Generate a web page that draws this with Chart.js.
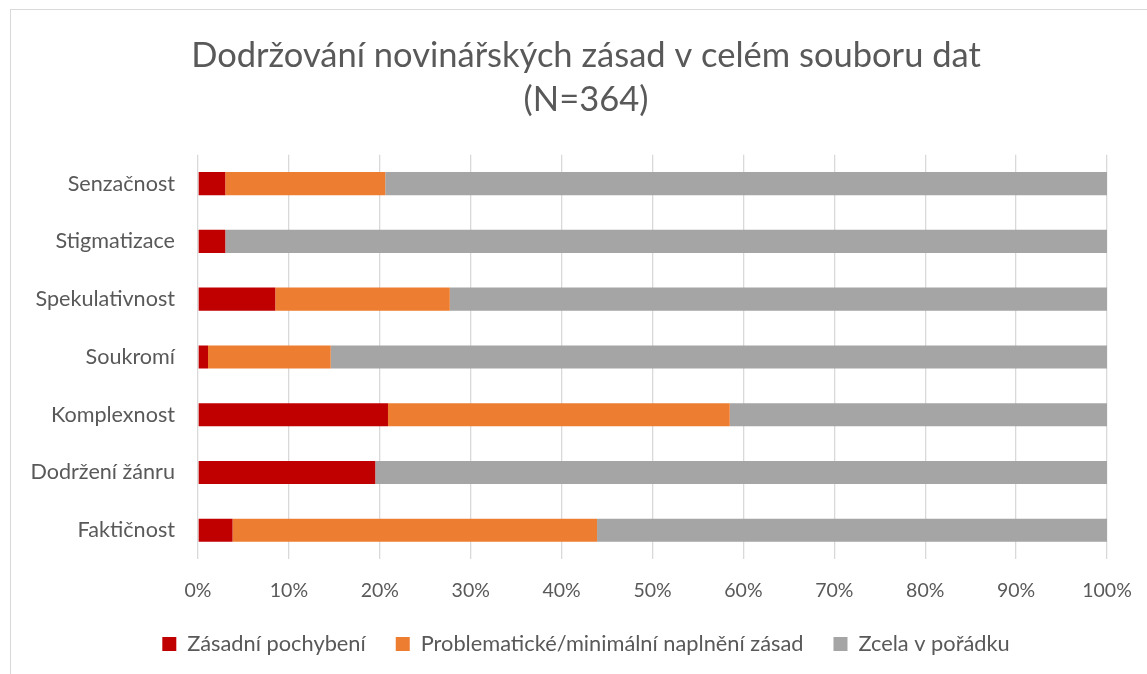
<!DOCTYPE html>
<html>
<head>
<meta charset="utf-8">
<script src="https://cdn.jsdelivr.net/npm/chart.js@4/dist/chart.umd.min.js"></script>
<style>
  html, body { margin: 0; padding: 0; background: #fff; overflow: hidden; width: 1147px; height: 674px; }
  #frame { position: absolute; left: 10px; top: 9px; width: 1160px; height: 700px; border: 1px solid #d9d9d9; box-sizing: border-box; }
  #wrap { position: absolute; left: 11px; top: 10px; width: 1150px; height: 664px; }
</style>
</head>
<body>
<div id="frame"></div>
<div id="wrap"><canvas id="c"></canvas></div>
<script>
const categories = ["Senzačnost", "Stigmatizace", "Spekulativnost", "Soukromí", "Komplexnost", "Dodržení žánru", "Faktičnost"];
const seriesNames = ["Zásadní pochybení", "Problematické/minimální naplnění zásad", "Zcela v pořádku"];
const zasadniPochybeni = [3.0, 3.0, 8.5, 1.1, 20.9, 19.5, 3.8];
const problematicke = [17.6, 0, 19.2, 13.5, 37.6, 0, 40.1];
const zcelaVPoradku = [79.4, 97.0, 72.3, 85.4, 41.5, 80.5, 56.1];
const titleLines = ["Dodržování novinářských zásad v celém souboru dat", "(N=364)"];
const colors = ["#C00000", "#ED7D31", "#A5A5A5"];

const FONT = "Lato, 'Open Sans', sans-serif";
const TXT = "#595959";

new Chart(document.getElementById("c"), {
  type: "bar",
  data: {
    labels: categories,
    datasets: [
      { label: seriesNames[0], data: zasadniPochybeni, backgroundColor: colors[0] },
      { label: seriesNames[1], data: problematicke, backgroundColor: colors[1] },
      { label: seriesNames[2], data: zcelaVPoradku, backgroundColor: colors[2] }
    ]
  },
  options: {
    indexAxis: "y",
    responsive: true,
    maintainAspectRatio: false,
    animation: false,
    datasets: { bar: { barPercentage: 0.4, categoryPercentage: 1.0, borderWidth: 0 } },
    layout: { padding: { left: 0, right: 0, top: 0, bottom: 9 } },
    scales: {
      x: {
        stacked: true,
        min: 0, max: 100,
        ticks: { stepSize: 10, color: TXT, padding: 20, font: { family: FONT, size: 19.5 }, callback: v => v + "%" },
        grid: { color: "#d9d9d9", lineWidth: 1.3, drawTicks: false },
        border: { display: false },
        afterFit: s => { s.height = 44; }
      },
      y: {
        stacked: true,
        ticks: { color: TXT, padding: 23, font: { family: FONT, size: 21.6 } },
        grid: { display: false, drawTicks: false },
        border: { display: false },
        afterFit: s => { s.width = 187; }
      },
      yRight: {
        type: "category",
        position: "right",
        display: true,
        ticks: { display: false },
        grid: { display: false, drawTicks: false },
        border: { display: false },
        afterFit: s => { s.width = 54; }
      }
    },
    plugins: {
      title: {
        display: true,
        text: titleLines,
        color: TXT,
        font: { family: FONT, size: 34.5, weight: "normal", lineHeight: 1.3 },
        padding: { top: 23, bottom: 32 }
      },
      legend: {
        position: "bottom",
        labels: {
          color: TXT,
          font: { family: FONT, size: 21.8 },
          boxWidth: 14, boxHeight: 14,
          padding: 30
        }
      },
      tooltip: { enabled: false }
    }
  }
});
</script>
</body>
</html>
